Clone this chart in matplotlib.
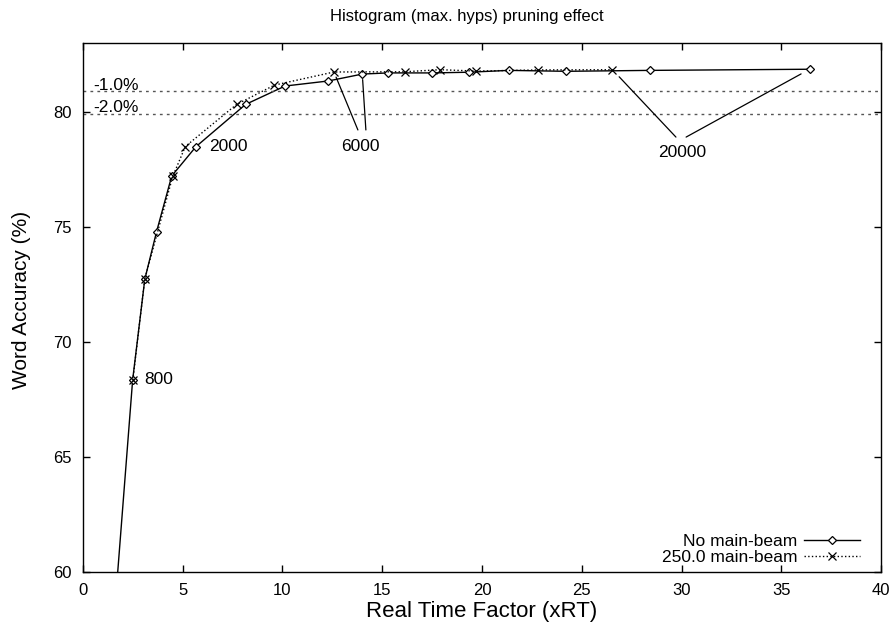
import matplotlib
matplotlib.use("Agg")
import matplotlib.pyplot as plt

plt.rcParams['font.family'] = ['Liberation Sans', 'DejaVu Sans']

# No main-beam (solid, diamonds)
rt_nobeam = [1.5, 2.49, 3.1, 3.69, 4.45, 5.66, 8.15, 10.13, 12.3, 14.0,
             15.3, 17.5, 19.33, 21.35, 24.22, 28.41, 36.42]
acc_nobeam = [57.3, 68.35, 72.73, 74.8, 77.22, 78.49, 80.33, 81.13, 81.35, 81.65,
              81.7, 81.7, 81.73, 81.81, 81.77, 81.81, 81.86]

# 250.0 main-beam (dotted, crosses)
rt_beam = [2.5, 3.1, 4.5, 5.13, 7.7, 9.6, 12.58, 16.12, 17.89, 19.72, 22.8, 26.54]
acc_beam = [68.35, 72.75, 77.2, 78.5, 80.33, 81.17, 81.74, 81.75, 81.84, 81.78, 81.83, 81.84]

best_acc = 81.9
drops = [1.0, 2.0]

fig = plt.figure(figsize=(8.93, 6.28), dpi=100)
ax = fig.add_axes([0.0929, 0.0892, 0.8937, 0.8423])

ax.plot(rt_nobeam, acc_nobeam, color='black', lw=1.0, marker='D', ms=4,
        mfc='white', mec='black', mew=0.9, label='No main-beam')
ax.plot(rt_beam, acc_beam, color='black', lw=1.0, ls=':', marker='x', ms=6,
        mew=0.9, label='250.0 main-beam')

# relative loss lines
for d, ty in zip(drops, [81.17, 80.2]):
    ax.axhline(best_acc - d, color='#555555', lw=1.0, ls=(0, (2, 3)))
    ax.text(0.5, ty, '-%.1f%%' % d, fontsize=12.5, va='center', ha='left')

# max. hyps labels
ax.text(2.49 + 0.6, 68.35, '800', fontsize=12.5, va='center', ha='left')
ax.text(6.3, 78.48, '2000', fontsize=12.5, va='center', ha='left')
ax.text(13.88, 78.48, '6000', fontsize=12.5, va='center', ha='center')
ax.text(30.03, 78.26, '20000', fontsize=12.5, va='center', ha='center')

lk = dict(arrowstyle='-', color='black', lw=0.9, shrinkA=0)
ax.annotate('', xy=(rt_beam[6], acc_beam[6]), xytext=(13.78, 79.22),
            arrowprops=dict(shrinkB=4, **lk))
ax.annotate('', xy=(rt_nobeam[9], acc_nobeam[9]), xytext=(14.18, 79.22),
            arrowprops=dict(shrinkB=4, **lk))
ax.annotate('', xy=(rt_beam[11], acc_beam[11]), xytext=(29.72, 78.91),
            arrowprops=dict(shrinkB=7, **lk))
ax.annotate('', xy=(rt_nobeam[16], acc_nobeam[16]), xytext=(30.23, 78.91),
            arrowprops=dict(shrinkB=7, **lk))

ax.set_xlim(0, 40)
ax.set_ylim(60, 83)
ax.set_xticks(range(0, 41, 5))
ax.set_yticks(range(60, 81, 5))
ax.tick_params(direction='in', top=True, right=True, length=5, width=1,
               labelsize=12, pad=8)
for s in ax.spines.values():
    s.set_linewidth(1.0)

ax.set_xlabel('Real Time Factor (xRT)', fontsize=16, labelpad=2)
ax.set_ylabel('Word Accuracy (%)', fontsize=15)
ax.yaxis.set_label_coords(-0.065, 0.515)
ax.set_title('Histogram (max. hyps) pruning effect', fontsize=12, pad=16, x=0.481)

ax.legend(loc='lower right', bbox_to_anchor=(0.9737, 0.013), frameon=False,
          markerfirst=False, fontsize=12.5, handlelength=3.2,
          borderaxespad=0, borderpad=0, labelspacing=0.05,
          handletextpad=0.4)

fig.savefig('out.png', dpi=100)
